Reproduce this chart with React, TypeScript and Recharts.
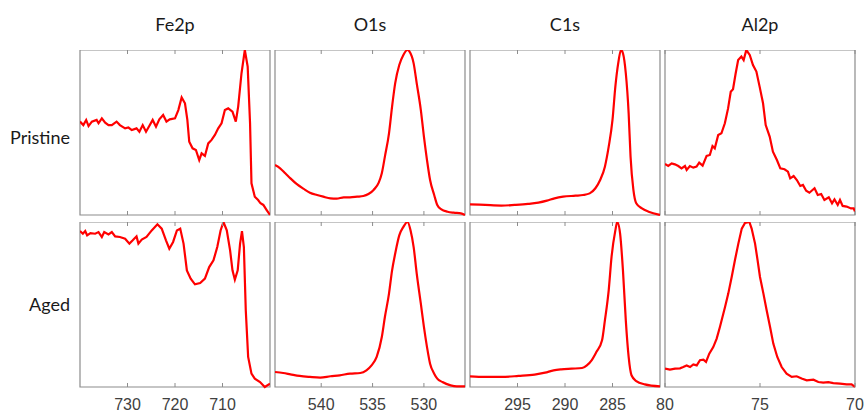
import React from "react";
import { Line, LineChart, ReferenceArea, XAxis, YAxis } from "recharts";

// binding energy (eV) / normalised intensity
const fe2pPristineE = [740, 739.3, 738.7, 738.2, 737.5, 736.5, 736.1, 735.4, 734.7, 734.0, 733.3, 732.3, 731.6, 730.5, 729.8, 729.1, 728.1, 727.5, 726.8, 726.1, 725.3, 724.7, 724.0, 723.3, 722.5, 721.8, 721.1, 720.0, 719.3, 718.6, 717.9, 717.4, 717.0, 716.3, 715.6, 714.9, 714.4, 713.7, 713.0, 712.3, 711.6, 710.9, 710.2, 709.5, 708.8, 707.9, 707.2, 706.7, 706.0, 705.3, 704.7, 704.2, 703.9, 703.2, 702.5, 702.0, 701.4, 700.7, 700.0];
const fe2pPristineI = [0.566, 0.545, 0.576, 0.539, 0.566, 0.576, 0.556, 0.586, 0.56, 0.545, 0.545, 0.566, 0.545, 0.525, 0.53, 0.515, 0.525, 0.505, 0.545, 0.505, 0.545, 0.576, 0.535, 0.58, 0.606, 0.566, 0.58, 0.586, 0.636, 0.713, 0.677, 0.576, 0.444, 0.404, 0.394, 0.333, 0.374, 0.358, 0.434, 0.455, 0.485, 0.525, 0.556, 0.636, 0.646, 0.626, 0.566, 0.657, 0.859, 1.0, 0.899, 0.556, 0.192, 0.111, 0.091, 0.071, 0.061, 0.03, 0.0];

const fe2pAgedE = [740, 739.4, 738.9, 738.5, 737.8, 736.8, 736.1, 735.4, 734.9, 734.0, 733.3, 732.6, 731.6, 730.5, 729.6, 728.9, 728.1, 727.7, 727.0, 726.0, 724.9, 723.7, 722.8, 721.9, 721.2, 720.4, 719.6, 718.9, 718.2, 717.5, 716.7, 715.8, 714.7, 713.7, 712.8, 711.9, 711.1, 710.4, 709.8, 709.1, 708.4, 707.9, 707.4, 706.8, 706.3, 705.9, 705.5, 705.1, 704.6, 703.9, 703.2, 702.1, 701.1, 700.0];
const fe2pAgedI = [0.945, 0.929, 0.945, 0.919, 0.933, 0.929, 0.939, 0.909, 0.939, 0.925, 0.939, 0.913, 0.909, 0.899, 0.869, 0.889, 0.913, 0.869, 0.893, 0.909, 0.949, 0.986, 0.96, 0.889, 0.838, 0.879, 0.949, 0.96, 0.869, 0.707, 0.657, 0.622, 0.63, 0.657, 0.727, 0.768, 0.848, 0.949, 1.0, 0.949, 0.828, 0.707, 0.65, 0.707, 0.869, 0.945, 0.848, 0.465, 0.182, 0.081, 0.051, 0.03, 0.0, 0.02];

const o1sPristineE = [544.5, 544.0, 543.5, 543.0, 542.4, 541.7, 541.1, 540.4, 539.8, 539.1, 538.5, 537.8, 537.2, 536.5, 535.9, 535.4, 534.9, 534.4, 534.1, 533.8, 533.4, 533.1, 532.8, 532.4, 532.0, 531.6, 531.4, 531.0, 530.7, 530.3, 530.0, 529.7, 529.4, 529.0, 528.7, 528.3, 527.7, 527.1, 526.4, 526.0];
const o1sPristineI = [0.303, 0.283, 0.253, 0.222, 0.188, 0.158, 0.135, 0.121, 0.111, 0.101, 0.099, 0.107, 0.107, 0.111, 0.115, 0.127, 0.152, 0.196, 0.253, 0.354, 0.495, 0.657, 0.798, 0.909, 0.97, 1.0, 0.99, 0.919, 0.798, 0.636, 0.475, 0.333, 0.212, 0.121, 0.061, 0.034, 0.02, 0.014, 0.01, 0.0];

const o1sAgedE = [544.5, 543.7, 543.0, 542.1, 541.1, 540.1, 539.1, 538.2, 537.2, 536.2, 535.6, 535.1, 534.6, 534.1, 533.8, 533.4, 533.1, 532.8, 532.4, 532.0, 531.6, 531.3, 531.0, 530.7, 530.3, 530.0, 529.7, 529.4, 529.0, 528.7, 528.2, 527.4, 526.8, 526.0];
const o1sAgedI = [0.091, 0.085, 0.077, 0.067, 0.061, 0.057, 0.065, 0.071, 0.081, 0.085, 0.101, 0.131, 0.182, 0.303, 0.424, 0.566, 0.707, 0.808, 0.919, 0.97, 1.0, 0.949, 0.848, 0.687, 0.505, 0.364, 0.242, 0.141, 0.081, 0.051, 0.03, 0.01, 0.004, 0.004];

const c1sPristineE = [300, 298.4, 296.7, 295.3, 293.9, 292.8, 291.9, 291.1, 290.2, 288.9, 288.1, 287.4, 286.8, 286.3, 285.8, 285.4, 285.0, 284.7, 284.4, 284.1, 283.9, 283.6, 283.3, 283.1, 282.8, 282.5, 281.9, 281.2, 280.0];
const c1sPristineI = [0.065, 0.061, 0.057, 0.061, 0.067, 0.075, 0.087, 0.101, 0.111, 0.117, 0.121, 0.131, 0.162, 0.212, 0.293, 0.414, 0.576, 0.778, 0.919, 1.0, 0.98, 0.859, 0.616, 0.354, 0.152, 0.071, 0.04, 0.02, 0.0];

const c1sAgedE = [300, 298.4, 296.7, 294.9, 293.2, 292.1, 291.2, 290.4, 289.3, 288.2, 287.7, 287.2, 286.7, 286.1, 285.8, 285.4, 285.1, 284.7, 284.5, 284.2, 283.9, 283.6, 283.3, 283.0, 282.5, 281.6, 280.0];
const c1sAgedI = [0.065, 0.061, 0.061, 0.067, 0.075, 0.087, 0.101, 0.107, 0.111, 0.115, 0.131, 0.162, 0.212, 0.283, 0.404, 0.586, 0.788, 0.949, 1.0, 0.929, 0.707, 0.404, 0.182, 0.071, 0.036, 0.016, 0.004];

const al2pPristineE = [80, 79.83, 79.65, 79.48, 79.3, 79.13, 78.95, 78.86, 78.69, 78.51, 78.34, 78.2, 78.02, 77.81, 77.64, 77.5, 77.38, 77.2, 77.03, 76.85, 76.68, 76.54, 76.42, 76.28, 76.15, 75.98, 75.86, 75.72, 75.54, 75.37, 75.19, 75.02, 74.84, 74.7, 74.49, 74.32, 74.11, 73.93, 73.71, 73.53, 73.41, 73.23, 73.06, 72.88, 72.74, 72.57, 72.4, 72.13, 71.96, 71.78, 71.61, 71.38, 71.21, 71.08, 70.91, 70.79, 70.65, 70.44, 70.21, 70.07, 70.0];
const al2pPristineI = [0.309, 0.297, 0.313, 0.307, 0.297, 0.283, 0.297, 0.273, 0.297, 0.287, 0.293, 0.317, 0.299, 0.358, 0.364, 0.418, 0.404, 0.485, 0.495, 0.556, 0.646, 0.747, 0.762, 0.859, 0.939, 0.96, 0.939, 1.0, 0.97, 0.909, 0.869, 0.778, 0.677, 0.545, 0.475, 0.384, 0.333, 0.283, 0.277, 0.263, 0.222, 0.236, 0.212, 0.176, 0.182, 0.147, 0.135, 0.162, 0.121, 0.127, 0.091, 0.107, 0.071, 0.095, 0.061, 0.091, 0.055, 0.051, 0.04, 0.04, 0.02];

const al2pAgedE = [80, 79.74, 79.47, 79.21, 79.04, 78.86, 78.68, 78.51, 78.33, 78.16, 77.98, 77.84, 77.67, 77.46, 77.28, 77.11, 76.84, 76.67, 76.49, 76.32, 76.14, 75.96, 75.79, 75.56, 75.44, 75.26, 75.14, 75.0, 74.82, 74.65, 74.47, 74.3, 74.09, 73.86, 73.6, 73.33, 73.07, 72.81, 72.54, 72.19, 71.93, 71.67, 71.4, 71.14, 70.79, 70.44, 70.18, 70.0];
const al2pAgedI = [0.111, 0.105, 0.111, 0.113, 0.121, 0.131, 0.121, 0.137, 0.131, 0.162, 0.166, 0.152, 0.202, 0.242, 0.293, 0.364, 0.485, 0.566, 0.667, 0.768, 0.869, 0.96, 0.994, 1.0, 0.96, 0.869, 0.778, 0.667, 0.566, 0.465, 0.364, 0.263, 0.182, 0.121, 0.081, 0.061, 0.065, 0.051, 0.04, 0.044, 0.03, 0.026, 0.03, 0.024, 0.02, 0.016, 0.016, 0.0];

const elements = ["Fe2p", "O1s", "C1s", "Al2p"];
const rowLabels = ["Pristine", "Aged"];
const domains: [number, number][] = [[700, 740], [526, 544.5], [280, 300], [70, 80]];
const tickValues = [[730, 720, 710], [540, 535, 530], [295, 290, 285], [80, 75, 70]];
const smooth = [false, true, true, false];

const curves = [
  [[fe2pPristineE, fe2pPristineI], [o1sPristineE, o1sPristineI], [c1sPristineE, c1sPristineI], [al2pPristineE, al2pPristineI]],
  [[fe2pAgedE, fe2pAgedI], [o1sAgedE, o1sAgedI], [c1sAgedE, c1sAgedI], [al2pAgedE, al2pAgedI]],
];

const colLeft = [80, 275, 470, 665];
const rowTop = [50, 222];
const PW = 190;
const PH = 165;
const PAD = 16;
const FRAME = "#8c8c8c";

function toRows(e: number[], v: number[]) {
  return e.map((x, i) => ({ e: x, v: v[i] }));
}

// tick marks point inward at the top and bottom frame; labels only under the last row
function FrameTick(props: any) {
  const { x, payload, withLabel } = props;
  return (
    <g>
      <line x1={x} x2={x} y1={0} y2={4} stroke={FRAME} />
      <line x1={x} x2={x} y1={PH - 4} y2={PH} stroke={FRAME} />
      {withLabel && (
        <text x={x} y={PH + 12} dy="0.71em" textAnchor="middle" fill="#404040" fontSize={16} fontFamily="Liberation Sans, Arial, sans-serif">
          {payload.value}
        </text>
      )}
    </g>
  );
}

function Panel({ row, col }: { row: number; col: number }) {
  const [e, v] = curves[row][col];
  const last = row === 1;
  const axisH = last ? 30 : 1;
  const [lo, hi] = domains[col];
  return (
    <div style={{ position: "absolute", left: colLeft[col] - PAD, top: rowTop[row] }}>
      <LineChart
        width={PW + PAD * 2}
        height={PH + axisH}
        data={toRows(e, v)}
        margin={{ top: 0, right: PAD, bottom: 0, left: PAD }}
      >
        <XAxis
          dataKey="e"
          type="number"
          domain={domains[col]}
          reversed
          allowDataOverflow
          ticks={tickValues[col]}
          interval={0}
          height={axisH}
          tickLine={false}
          axisLine={false}
          tick={<FrameTick withLabel={last} />}
        />
        <YAxis type="number" domain={[0, 1]} hide />
        <ReferenceArea
          x1={lo}
          x2={hi}
          y1={0}
          y2={1}
          fill="none"
          stroke={FRAME}
          strokeWidth={1.2}
          ifOverflow="visible"
        />
        <Line
          type={smooth[col] ? "monotone" : "linear"}
          dataKey="v"
          stroke="#ff0000"
          strokeWidth={2.2}
          dot={false}
          isAnimationActive={false}
        />
      </LineChart>
    </div>
  );
}

export default function App() {
  const label: React.CSSProperties = {
    position: "absolute",
    fontFamily: "Lato, 'Open Sans', sans-serif",
    fontSize: 18,
    color: "#1a1a1a",
    lineHeight: "20px",
  };
  return (
    <div style={{ position: "absolute", left: 0, top: 0, width: 866, height: 412, background: "#fff" }}>
      {elements.map((name, c) => (
        <div key={name} style={{ ...label, left: colLeft[c], width: PW, top: 14, textAlign: "center" }}>
          {name}
        </div>
      ))}
      {rowLabels.map((name, r) => (
        <div key={name} style={{ ...label, left: 0, width: 70, top: r === 0 ? 127 : 294, textAlign: "right" }}>
          {name}
        </div>
      ))}
      {rowTop.map((_, r) => colLeft.map((__, c) => <Panel key={`${r}-${c}`} row={r} col={c} />))}
    </div>
  );
}
